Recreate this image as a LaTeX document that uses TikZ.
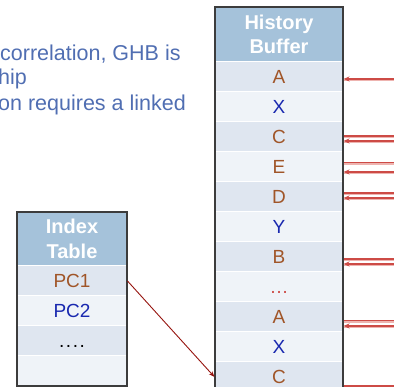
\documentclass[tikz,border=0pt]{standalone}
\usepackage{fontspec}
\setmainfont{Liberation Sans}
\usetikzlibrary{arrows.meta}
\definecolor{hdr}{RGB}{165,194,218}
\definecolor{rowA}{RGB}{223,230,240}
\definecolor{rowB}{RGB}{239,243,248}
\definecolor{brownT}{RGB}{160,85,40}
\definecolor{blueT}{RGB}{25,40,175}
\definecolor{txtB}{RGB}{80,110,178}
\definecolor{lnk}{RGB}{205,75,70}
\definecolor{lnkS}{RGB}{238,180,176}
\definecolor{ptr}{RGB}{150,20,15}
\definecolor{frm}{RGB}{60,60,60}
\begin{document}
\begin{tikzpicture}[x=1pt,y=-1pt,
  cell/.style={minimum height=30pt, inner sep=0pt, draw=white, line width=1pt,
    text height=14pt, text depth=0pt, font=\fontsize{19}{22}\selectfont},
  hcell/.style={cell, minimum width=128pt},
  icell/.style={cell, minimum width=110pt},
  dk/.style={fill=rowA}, lt/.style={fill=rowB},
  br/.style={text=brownT}, bl/.style={text=blueT},
  header/.style={fill=hdr, draw=white, line width=1pt, inner sep=0pt, align=center,
    text=white, font=\bfseries\fontsize{20}{24}\selectfont},
  frame/.style={draw=frm, line width=1.1pt},
  inarrow/.style={draw=lnk, line width=1.2pt, -{Stealth[length=6pt,width=5pt]}},
  outline/.style={draw=lnk, line width=1.2pt},
  shadow/.style={draw=lnkS, line width=1.4pt},
  ptrarrow/.style={draw=ptr, line width=0.9pt, -{Stealth[length=6pt,width=4.5pt]}},
  note/.style={anchor=base west, inner sep=0pt, text=txtB, font=\fontsize{21.5}{25}\selectfont}
]
\useasboundingbox (0,0) rectangle (394,387);
\clip (0,0) rectangle (394,387);

% top-left text (cropped in the original)
\node[note] (t1) at (0,61) {correlation, GHB is};
\node[note] (t2) at (-2,85) {hip};
\node[note] (t3) at (-2,111) {on requires a linked};

% History buffer
\node[header, minimum width=128pt, minimum height=55pt] (hh) at (279,34.5) {History\\Buffer};
\node[hcell,dk,br] (h0) at (279,77) {A};
\node[hcell,lt,bl] (h1) at (279,107) {X};
\node[hcell,dk,br] (h2) at (279,137) {C};
\node[hcell,lt,br] (h3) at (279,167) {E};
\node[hcell,dk,br] (h4) at (279,197) {D};
\node[hcell,lt,bl] (h5) at (279,227) {Y};
\node[hcell,dk,br] (h6) at (279,257) {B};
\node[hcell,lt,text=lnk] (h7) at (279,287) {…};
\node[hcell,dk,br] (h8) at (279,317) {A};
\node[hcell,lt,bl] (h9) at (279,347) {X};
\node[hcell,dk,br] (h10) at (279,377) {C};
\draw[frame] (215,400) -- (215,7) -- (343,7) -- (343,400);

% Index table
\node[header, minimum width=110pt, minimum height=54pt, font=\bfseries\fontsize{20}{25}\selectfont] (ih) at (72,239) {Index\\Table};
\node[icell,dk,br] (i0) at (72,281) {PC1};
\node[icell,lt,bl] (i1) at (72,311) {PC2};
\node[icell,dk] (i2) at (72,341) {.\hspace{1.6pt}.\hspace{1.6pt}.\hspace{1.6pt}.};
\node[icell,lt] (i3) at (72,371) {};
\draw[frame] (17,212) rectangle (127,386);

% pointer from index table to history buffer
\draw[ptrarrow] (i0.east) -- (h10.west);

% incoming link arrows (from the right)
\coordinate (a0) at (394,79);
\coordinate (a2) at (394,141);
\coordinate (a3) at (394,172);
\coordinate (a4) at (394,198);
\coordinate (a6) at (394,264);
\coordinate (a8) at (394,326);
% outgoing link lines (to the right)
\coordinate (o2) at (394,136);
\coordinate (o3) at (394,162.5);
\coordinate (o4) at (394,193);
\coordinate (o6) at (394,259);
\coordinate (o8) at (394,320.5);
\coordinate (o10) at (394,386);

\foreach \n in {0,2,3,4,6,8} {
  \draw[shadow] ([yshift=-1.5pt]a\n) -- ([yshift=-1.5pt]a\n -| h\n.east);
  \draw[inarrow] (a\n) -- (a\n -| h\n.east);
}
\foreach \n in {2,3,4,6,8,10} {
  \draw[shadow] ([yshift=-1.5pt]o\n -| h\n.east) -- ([yshift=-1.5pt]o\n);
  \draw[outline] (o\n -| h\n.east) -- (o\n);
}
\end{tikzpicture}
\end{document}
